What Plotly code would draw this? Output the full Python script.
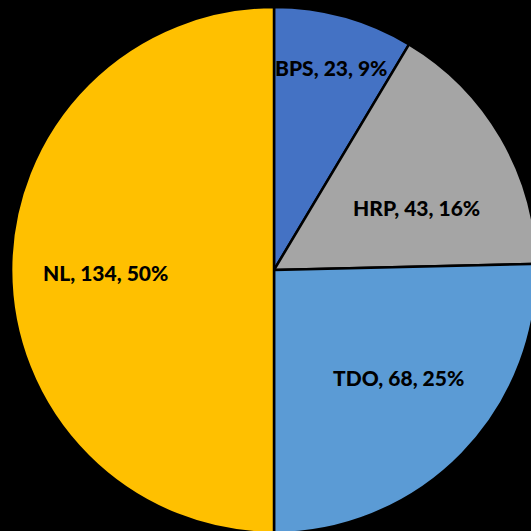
import math
import plotly.graph_objects as go

labels = ["BPS", "HRP", "TDO", "NL"]
values = [23, 43, 68, 134]
colors = ["#4472C4", "#A5A5A5", "#5B9BD5", "#FFC000"]

# label placement (fraction of radius, angle nudge in degrees)
label_r = [0.80, 0.59, 0.625, 0.64]
label_da = [0.4, 6.6, -3.7, -1.0]

W, H = 537, 533
dom_x = [11 / W, 1]
dom_y = [0, 1 - 7 / H]
R_px = 263

fig = go.Figure(go.Pie(
    labels=labels,
    values=values,
    sort=False,
    direction="clockwise",
    rotation=0,
    marker=dict(colors=colors, line=dict(color="#000000", width=2.5)),
    textinfo="none",
    hoverinfo="skip",
    showlegend=False,
    domain=dict(x=dom_x, y=dom_y),
))

total = sum(values)
cx = (dom_x[0] + dom_x[1]) / 2 * W
cy = (1 - (dom_y[0] + dom_y[1]) / 2) * H
cum = 0
for lab, v, rf, da in zip(labels, values, label_r, label_da):
    mid = (cum + v / 2) / total * 360 + da
    cum += v
    a = math.radians(mid)
    px = cx + rf * R_px * math.sin(a)
    py = cy - rf * R_px * math.cos(a)
    fig.add_annotation(
        x=px / W, y=1 - py / H, xref="paper", yref="paper",
        text=f"{lab}, {v}, {round(v / total * 100)}%",
        showarrow=False, xanchor="center", yanchor="middle",
        font=dict(family="Lato", size=21, color="#000000", weight=900),
    )

fig.update_layout(
    width=W, height=H,
    margin=dict(l=0, r=0, t=0, b=0),
    paper_bgcolor="#000000",
    plot_bgcolor="#000000",
)

fig.write_html(
    "out.html",
    config={"displayModeBar": False},
    post_script="document.body.style.margin='0';document.body.style.overflow='hidden';document.body.style.background='#000';",
)
